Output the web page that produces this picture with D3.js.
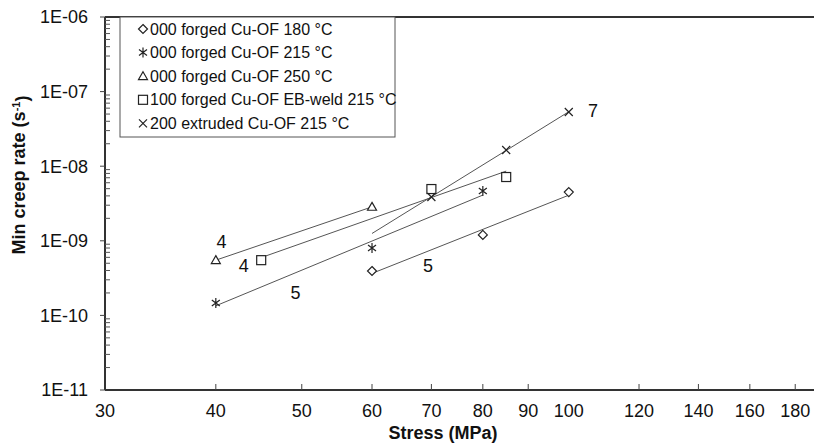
<!DOCTYPE html>
<html>
<head>
<meta charset="utf-8">
<script src="https://cdn.jsdelivr.net/npm/d3@7"></script>
<style>
  body { margin: 0; background: #fff; }
  text { font-family: "Liberation Sans", Arial, sans-serif; fill: #111; }
</style>
</head>
<body>
<svg width="814" height="445"></svg>
<script>
// series (stress in MPa, min creep rate in 1/s)
var seriesNames = ["000 forged Cu-OF 180 °C", "000 forged Cu-OF 215 °C", "000 forged Cu-OF 250 °C",
                   "100 forged Cu-OF EB-weld 215 °C", "200 extruded Cu-OF 215 °C"];
var seriesSymbols = ["diamond", "asterisk", "triangle", "square", "cross"];
var stress180 = [60, 80, 100],       rate180 = [3.94e-10, 1.2e-9, 4.5e-9];
var stress215 = [40, 60, 80],        rate215 = [1.47e-10, 8.0e-10, 4.65e-9];
var stress250 = [40, 60],            rate250 = [5.5e-10, 2.85e-9];
var stressWeld = [45, 70, 85],       rateWeld = [5.5e-10, 4.94e-9, 7.16e-9];
var stressExtr = [70, 85, 100],      rateExtr = [3.87e-9, 1.65e-8, 5.33e-8];
// stress range over which each fitted line is drawn
var fitFrom = [60, 40, 40, 45, 60];
var fitTo = [100, 80, 60, 85, 100];
// stress exponent labels
var labelText = ["4", "4", "5", "5", "7"];
var labelStress = [40.6, 43.0, 49.2, 69.4, 106.5];
var labelRate = [9.6e-10, 4.7e-10, 2.0e-10, 4.7e-10, 5.5e-8];

var xTicks = [30, 40, 50, 60, 70, 80, 90, 100, 120, 140, 160, 180];
var yTicks = [1e-11, 1e-10, 1e-9, 1e-8, 1e-7, 1e-6];
var yTickLabels = ["1E-11", "1E-10", "1E-09", "1E-08", "1E-07", "1E-06"];

var svg = d3.select("svg"),
    width = +svg.attr("width"),
    height = +svg.attr("height");

var mLeft = 105, mTop = 17, mBottom = 390;

var x = d3.scaleLog().domain([30, 200]).range([mLeft, mLeft + 887 * Math.log10(200 / 30)]);
var y = d3.scaleLog().domain([1e-11, 1e-6]).range([mBottom, mTop]);

var series = [
  {xs: stress180, ys: rate180},
  {xs: stress215, ys: rate215},
  {xs: stress250, ys: rate250},
  {xs: stressWeld, ys: rateWeld},
  {xs: stressExtr, ys: rateExtr}
].map(function(s, i) {
  return {name: seriesNames[i], symbol: seriesSymbols[i],
          points: s.xs.map(function(v, j) { return [v, s.ys[j]]; }),
          from: fitFrom[i], to: fitTo[i]};
});

// power law fit in log-log space
function fit(points) {
  var lx = points.map(function(p) { return Math.log10(p[0]); }),
      ly = points.map(function(p) { return Math.log10(p[1]); }),
      mx = d3.mean(lx), my = d3.mean(ly),
      sxy = d3.sum(lx, function(v, i) { return (v - mx) * (ly[i] - my); }),
      sxx = d3.sum(lx, function(v) { return (v - mx) * (v - mx); }),
      b = sxy / sxx;
  return function(s) { return Math.pow(10, my + b * (Math.log10(s) - mx)); };
}

// fitted lines
series.forEach(function(s) {
  var f = fit(s.points);
  svg.append("line")
      .attr("x1", x(s.from)).attr("y1", y(f(s.from)))
      .attr("x2", x(s.to)).attr("y2", y(f(s.to)))
      .attr("stroke", "#555").attr("stroke-width", 1);
});

function marker(g, type) {
  var r = 4.5;
  g.attr("fill", "none").attr("stroke", "#222").attr("stroke-width", 1.2);
  if (type == "diamond") {
    g.append("path").attr("d", "M0,-" + r + "L" + r + ",0L0," + r + "L-" + r + ",0Z").attr("fill", "#fff");
  } else if (type == "square") {
    g.append("rect").attr("x", -r).attr("y", -r).attr("width", 2 * r).attr("height", 2 * r).attr("fill", "#fff");
  } else if (type == "triangle") {
    g.append("path").attr("d", "M0,-" + r + "L" + r + "," + (r * 0.75) + "L-" + r + "," + (r * 0.75) + "Z").attr("fill", "#fff");
  } else if (type == "cross") {
    g.append("path").attr("d", "M-4,-4L4,4M4,-4L-4,4");
  } else {
    g.append("path").attr("d", "M-4,-3L4,3M4,-3L-4,3M0,-5L0,5");
  }
}

series.forEach(function(s) {
  svg.selectAll(null)
    .data(s.points)
    .enter().append("g")
      .attr("transform", function(d) { return "translate(" + x(d[0]) + "," + y(d[1]) + ")"; })
      .each(function() { marker(d3.select(this), s.symbol); });
});

// exponent labels
svg.selectAll(null)
  .data(labelText)
  .enter().append("text")
    .attr("x", function(d, i) { return x(labelStress[i]); })
    .attr("y", function(d, i) { return y(labelRate[i]); })
    .attr("dy", "0.35em")
    .attr("text-anchor", "middle")
    .style("font-size", "18px")
    .text(function(d) { return d; });

// axes frame
svg.append("line").attr("x1", mLeft).attr("x2", width).attr("y1", mBottom).attr("y2", mBottom)
    .attr("stroke", "#333").attr("stroke-width", 2);
svg.append("line").attr("x1", mLeft).attr("x2", width).attr("y1", mTop).attr("y2", mTop)
    .attr("stroke", "#333").attr("stroke-width", 2);
svg.append("line").attr("x1", mLeft).attr("x2", mLeft).attr("y1", mTop).attr("y2", mBottom)
    .attr("stroke", "#333").attr("stroke-width", 2);

// x ticks (inside) and labels
svg.selectAll(null)
  .data(xTicks.filter(function(d) { return d != 30 && d != 100; }))
  .enter().append("line")
    .attr("x1", function(d) { return x(d); }).attr("x2", function(d) { return x(d); })
    .attr("y1", mBottom).attr("y2", mBottom - 6)
    .attr("stroke", "#444").attr("stroke-width", 1);
svg.selectAll(null)
  .data(xTicks)
  .enter().append("text")
    .attr("x", function(d) { return x(d); })
    .attr("y", mBottom + 27)
    .attr("text-anchor", "middle")
    .style("font-size", "18px")
    .text(function(d) { return d; });

// y ticks: major outward, minor inward
svg.selectAll(null)
  .data(yTicks)
  .enter().append("line")
    .attr("x1", mLeft - 5).attr("x2", mLeft)
    .attr("y1", function(d) { return y(d); }).attr("y2", function(d) { return y(d); })
    .attr("stroke", "#444").attr("stroke-width", 1);
var minor = [];
yTicks.slice(0, -1).forEach(function(d) { for (var k = 2; k < 10; k++) minor.push(d * k); });
svg.selectAll(null)
  .data(minor)
  .enter().append("line")
    .attr("x1", mLeft).attr("x2", mLeft + 5)
    .attr("y1", function(d) { return y(d); }).attr("y2", function(d) { return y(d); })
    .attr("stroke", "#555").attr("stroke-width", 1);
svg.selectAll(null)
  .data(yTicks)
  .enter().append("text")
    .attr("x", mLeft - 17)
    .attr("y", function(d) { return y(d); })
    .attr("dy", "0.35em")
    .attr("text-anchor", "end")
    .style("font-size", "18px")
    .text(function(d, i) { return yTickLabels[i]; });

// axis titles
svg.append("text")
    .attr("x", 443).attr("y", 439)
    .attr("text-anchor", "middle")
    .style("font-size", "18px").style("font-weight", "bold")
    .text("Stress (MPa)");
var yt = svg.append("text")
    .attr("transform", "translate(25,175) rotate(-90)")
    .attr("text-anchor", "middle")
    .style("font-size", "18px").style("font-weight", "bold");
yt.append("tspan").text("Min creep rate (s");
yt.append("tspan").attr("dy", "-0.45em").style("font-size", "11px").text("-1");
yt.append("tspan").attr("dy", "0.45em").text(")");

// legend
var legend = svg.append("g");
legend.append("rect")
    .attr("x", 120).attr("y", mTop).attr("width", 275).attr("height", 120)
    .attr("fill", "#fff").attr("stroke", "#555").attr("stroke-width", 1);
series.forEach(function(s, i) {
  var rowY = 29 + i * 23.6;
  marker(legend.append("g").attr("transform", "translate(143," + rowY + ")"), s.symbol);
  legend.append("text")
      .attr("x", 150).attr("y", rowY).attr("dy", "0.35em")
      .style("font-size", "16px")
      .text(s.name);
});
</script>
</body>
</html>
